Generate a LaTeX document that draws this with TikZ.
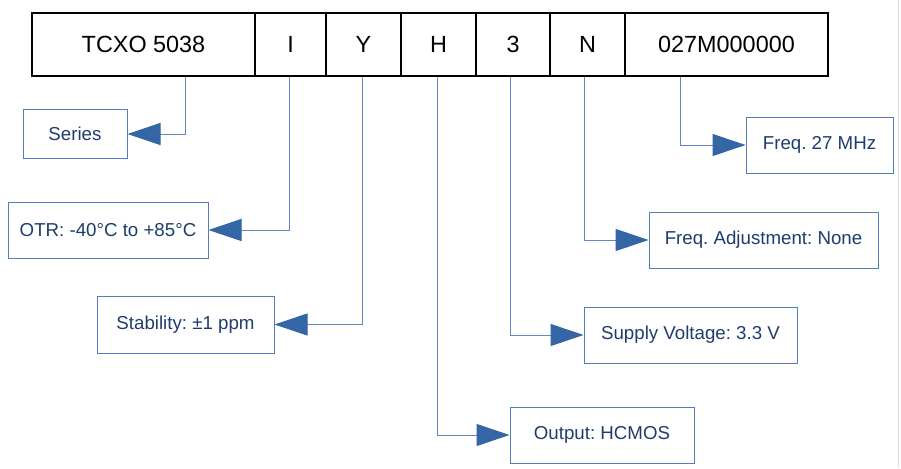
\documentclass[tikz,border=0pt]{standalone}
\usepackage{fontspec}
\setmainfont{Liberation Sans}
\usetikzlibrary{arrows.meta}
\definecolor{navytext}{HTML}{1F3D6C}
\definecolor{boxblue}{HTML}{4F7DBD}
\definecolor{lineblue}{HTML}{5F88C4}
\definecolor{tipblue}{HTML}{3465A4}
\frenchspacing
\tikzset{
  cell/.style={draw=black, line width=1.6pt, minimum height=63pt, inner sep=0pt, font=\fontsize{23.4}{27}\selectfont, text=black},
  infobox/.style={draw=boxblue, line width=1pt, inner sep=0pt, font=\fontsize{18.7}{22}\selectfont, text=navytext},
  conn/.style={draw=lineblue, line width=1pt, -{Triangle[length=33pt,width=22pt,color=tipblue]}}
}
\begin{document}
\begin{tikzpicture}[x=1pt,y=-1pt]
\useasboundingbox (0,0) rectangle (901,468);
\fill[white] (0,0) rectangle (901,468);
\draw[gray!25, line width=1pt] (898,0) -- (898,468);
% part number cells
\node[cell, minimum width=223pt] (c1) at (143.5,44.5) {TCXO 5038};
\node[cell, minimum width=71pt] (c2) at (290.5,44.5) {I};
\node[cell, minimum width=75pt] (c3) at (363.5,44.5) {Y};
\node[cell, minimum width=75pt] (c4) at (438.5,44.5) {H};
\node[cell, minimum width=74pt] (c5) at (513,44.5) {3};
\node[cell, minimum width=75pt] (c6) at (587.5,44.5) {N};
\node[cell, minimum width=203pt] (c7) at (726.5,44.5) {027M000000};
% info boxes
\node[infobox, minimum width=104pt, minimum height=48pt] (series) at (75,134) {Series};
\node[infobox, minimum width=200pt, minimum height=56pt] (otr) at (108,230) {OTR: -40°C to +85°C};
\node[infobox, minimum width=177pt, minimum height=57pt] (stab) at (185.5,324.5) {Stability: ±1 ppm};
\node[infobox, minimum width=184pt, minimum height=56pt] (outp) at (602,435) {Output: HCMOS};
\node[infobox, minimum width=213pt, minimum height=56pt] (supply) at (690.5,335) {Supply Voltage: 3.3 V};
\node[infobox, minimum width=229pt, minimum height=56pt] (fadj) at (763.5,240) {Freq. Adjustment: None};
\node[infobox, minimum width=147pt, minimum height=56pt] (f27) at (819.5,145) {Freq. 27 MHz};
% connectors
\draw[conn] (c1.south -| 185,0) |- (series.east);
\draw[conn] (c2.south -| 289,0) |- (otr.east);
\draw[conn] (c3.south -| 362,0) |- (stab.east);
\draw[conn] (c4.south -| 437,0) |- (outp.west);
\draw[conn] (c5.south -| 510,0) |- (supply.west);
\draw[conn] (c6.south -| 584,0) |- (fadj.west);
\draw[conn] (c7.south -| 680,0) |- (f27.west);
\end{tikzpicture}
\end{document}
